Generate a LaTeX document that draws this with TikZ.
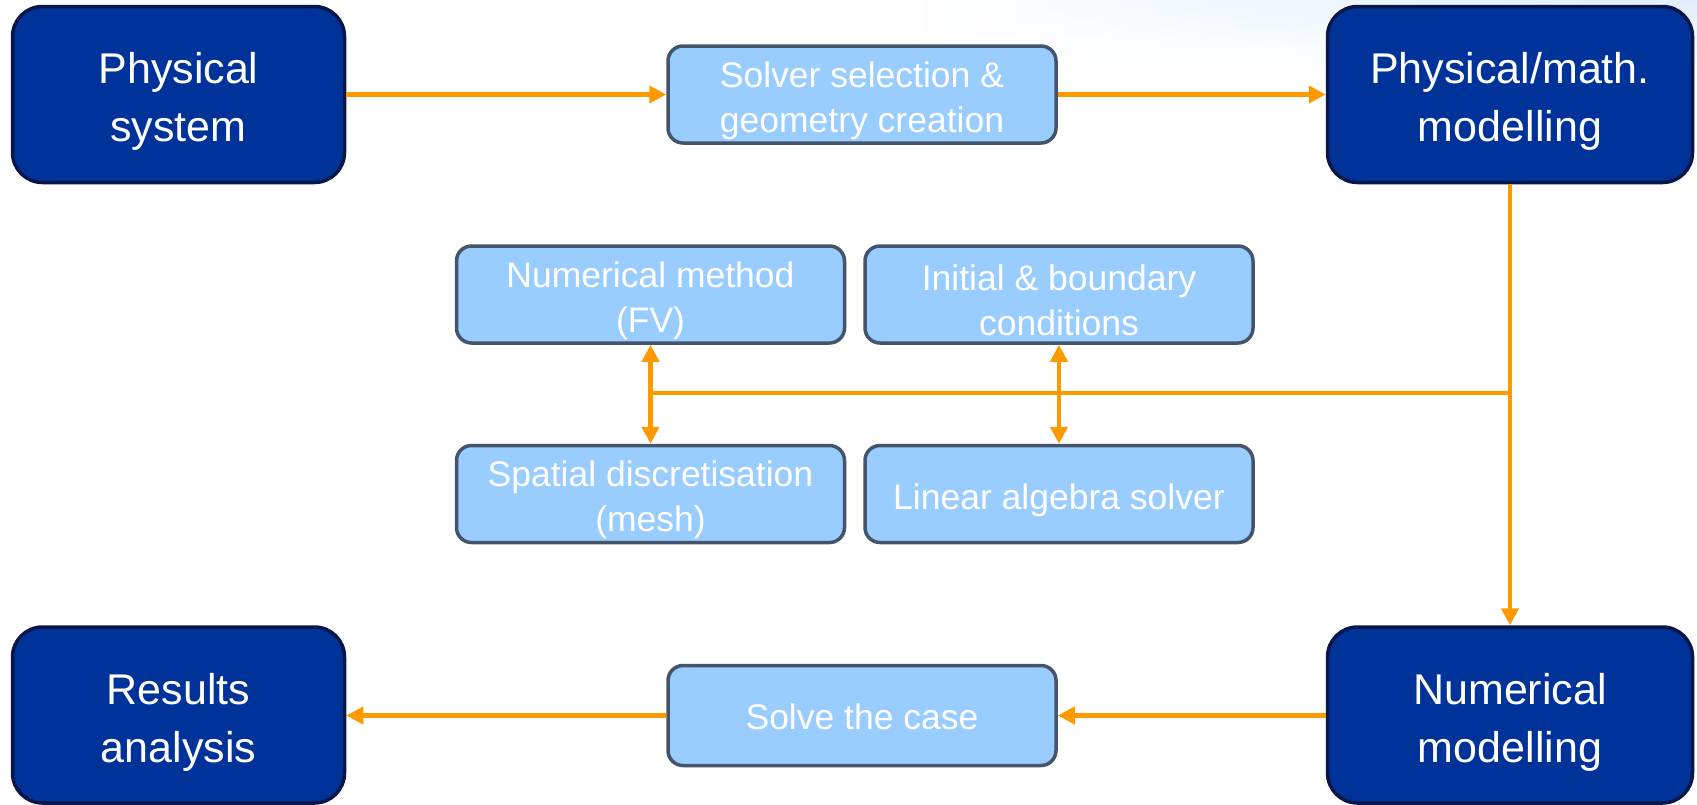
\documentclass[tikz,border=0pt]{standalone}
\usepackage{fontspec}
\setmainfont{Liberation Sans}
\usetikzlibrary{arrows.meta,fadings}
\definecolor{darkfill}{RGB}{0,51,153}
\definecolor{darkline}{RGB}{8,22,72}
\definecolor{lightfill}{RGB}{153,204,255}
\definecolor{lightline}{RGB}{68,84,106}
\definecolor{arrowc}{RGB}{255,153,0}
\definecolor{bgblue}{RGB}{225,238,252}
\tikzset{
  bigbox/.style={draw=darkline, line width=3.5pt, fill=darkfill, rounded corners=30pt,
    inner sep=0pt},
  bigtext/.style={text=white, align=center, inner sep=0pt, yshift=-7pt,
    font=\fontsize{43}{58}\selectfont},
  smallbox/.style={draw=lightline, line width=3.5pt, fill=lightfill, rounded corners=15pt,
    minimum width=388pt, minimum height=97pt, inner sep=0pt},
  smalltext/.style={text=white, align=center, inner sep=0pt, yshift=-6pt,
    font=\fontsize{35.5}{45}\selectfont},
  flow/.style={draw=arrowc, line width=4.5pt, -{Triangle[length=17pt,width=17pt]}},
  flowline/.style={draw=arrowc, line width=4.5pt},
  twoway/.style={draw=arrowc, line width=4.5pt, {Triangle[length=17pt,width=17pt]}-{Triangle[length=17pt,width=17pt]}}
}
\begin{document}
\begin{tikzpicture}[x=1pt,y=-1pt]
\useasboundingbox (0,0) rectangle (1697,804);
\fill[white] (0,0) rectangle (1697,804);
\shade[left color=white, right color=bgblue, path fading=south] (900,0) rectangle (1697,70);
% big boxes
\node[bigbox, minimum width=332pt, minimum height=176pt,
  label={[bigtext]center:Physical\\system}] (ps) at (178.5,94.5) {};
\node[bigbox, minimum width=365pt, minimum height=176pt,
  label={[bigtext]center:Physical/math.\\modelling}] (pm) at (1510,94.5) {};
\node[bigbox, minimum width=332pt, minimum height=176pt,
  label={[bigtext]center:Results\\analysis}] (ra) at (178.5,715) {};
\node[bigbox, minimum width=365pt, minimum height=176pt,
  label={[bigtext]center:Numerical\\modelling}] (nm) at (1510,715) {};
% small boxes
\node[smallbox, label={[smalltext]center:Solver selection \&\\geometry creation}] (sol) at (862,94.5) {};
\node[smallbox, label={[smalltext]center:Numerical method\\(FV)}] (nmeth) at (650.5,294.5) {};
\node[smallbox, label={[smalltext]center:Initial \& boundary\\conditions}] (ibc) at (1059,294.5) {};
\node[smallbox, label={[smalltext]center:Spatial discretisation\\(mesh)}] (spat) at (650.5,494) {};
\node[smallbox, label={[smalltext]center:Linear algebra solver}] (las) at (1059,494) {};
\node[smallbox, minimum height=100pt, label={[smalltext, yshift=5pt]center:Solve the case}] (solve) at (862,715.5) {};
% connectors
\draw[flow] (ps.east) -- (sol.west);
\draw[flow] (sol.east) -- (pm.west);
\draw[flow] (pm.south) -- (nm.north);
\coordinate (jr) at (pm.south |- 0,393);
\coordinate (jl) at (nmeth.south |- 0,393);
\draw[flowline] (jr) -- (jl);
\draw[twoway] (nmeth.south) -- (spat.north);
\draw[twoway] (ibc.south) -- (las.north);
\draw[flow] (nm.west |- solve.east) -- (solve.east);
\draw[flow] (solve.west) -- (ra.east |- solve.west);
\end{tikzpicture}
\end{document}
